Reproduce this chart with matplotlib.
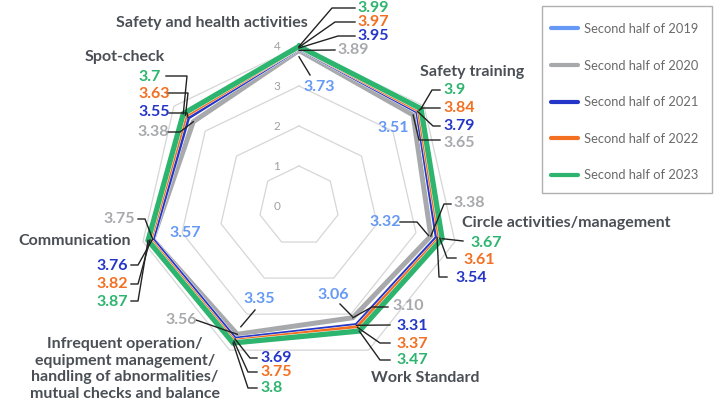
import numpy as np
import matplotlib.pyplot as plt
import matplotlib.patheffects as pe
from matplotlib.lines import Line2D
from matplotlib.patches import Rectangle

categories = ['Safety and health activities', 'Safety training',
              'Circle activities/management', 'Work Standard',
              'Infrequent operation/\nequipment management/\nhandling of abnormalities/\nmutual checks and balance',
              'Communication', 'Spot-check']
years = ['Second half of 2019', 'Second half of 2020', 'Second half of 2021',
         'Second half of 2022', 'Second half of 2023']
v2019 = [3.73, 3.51, 3.32, 3.06, 3.35, 3.57, 3.35]
v2020 = [3.89, 3.65, 3.38, 3.10, 3.56, 3.75, 3.38]
v2021 = [3.95, 3.79, 3.54, 3.31, 3.69, 3.76, 3.55]
v2022 = [3.97, 3.84, 3.61, 3.37, 3.75, 3.82, 3.63]
v2023 = [3.99, 3.90, 3.67, 3.47, 3.80, 3.87, 3.70]
ticks = [0, 1, 2, 3, 4]

series = [v2019, v2020, v2021, v2022, v2023]
colors = ['#6699f5', '#a7a9ac', '#2436c8', '#f36f21', '#2db46e']
widths = [3.0, 3.6, 3.2, 3.2, 3.8]
fmts = ['{:g}', '{:.2f}', '{:g}', '{:g}', '{:g}']
lblfont = ['Lato', 'DejaVu Sans']

W, H = 720, 408
CX, CY, S = 299, 206, 40.0   # centre in image px, px per unit


def px(x, y):
    # image pixel -> data coords
    return ((x - CX) / S, (CY - y) / S)


n = len(categories)
ang = 2 * np.pi * np.arange(n) / n

fig = plt.figure(figsize=(W / 100, H / 100), dpi=100)
ax = fig.add_axes([0, 0, 1, 1])
ax.set_xlim(-CX / S, (W - CX) / S)
ax.set_ylim(-(H - CY) / S, CY / S)
ax.axis('off')

# polygon grid
for k in ticks[1:]:
    a = np.append(ang, ang[0])
    ax.plot(k * np.sin(a), k * np.cos(a), color='#d6d6d6', lw=0.9, zorder=1)
for k in ticks:
    x, y = px(277, CY - k * S)
    ax.text(x, y - 0.02, str(k), color='#a0a0a0', fontsize=8.5, ha='center', va='center',
            family=lblfont)

# series (2019 line is not shown in the chart)
for i, vals in enumerate(series):
    v = np.array(vals + vals[:1])
    a = np.append(ang, ang[0])
    ln, = ax.plot(v * np.sin(a), v * np.cos(a), color=colors[i], lw=widths[i],
                  solid_joinstyle='miter', zorder=2 + i, alpha=0 if i == 0 else 1)
    if i > 1:
        ln.set_path_effects([pe.Stroke(linewidth=widths[i] + 0.6, foreground='white'),
                             pe.Normal()])

# value labels: (series, axis) -> text left x, y, leader points (image px)
lab = {
    (4, 0): (357, 8, [(355, 8), (332, 8)]),
    (3, 0): (357, 22, [(355, 22), (335, 22)]),
    (2, 0): (357, 36, [(355, 36), (338, 36)]),
    (1, 0): (337, 50, [(335, 50)]),
    (0, 0): (303, 87, [(310, 75)]),
    (4, 1): (443, 90, [(440, 90), (432, 90)]),
    (3, 1): (443, 108, [(440, 108), (422, 108)]),
    (2, 1): (443, 126, [(440, 126), (433, 126)]),
    (1, 1): (443, 143, [(440, 140), (419, 140)]),
    (0, 1): (377, 128, []),
    (1, 2): (453, 203, [(451, 204), (444, 204)]),
    (0, 2): (369, 222, [(400, 222), (417, 222)]),
    (4, 2): (470, 243, [(463, 241)]),
    (3, 2): (463, 260, [(456, 258), (447, 258)]),
    (2, 2): (455, 278, [(447, 277), (439, 277)]),
    (0, 3): (317, 295, [(340, 304)]),
    (1, 3): (392, 306, [(388, 307), (372, 307)]),
    (2, 3): (396, 326, [(390, 325)]),
    (3, 3): (396, 344, [(390, 343), (380, 343)]),
    (4, 3): (396, 360, [(390, 360), (380, 360)]),
    (0, 4): (243, 299, [(255, 310)]),
    (1, 4): (165, 320, [(196, 320)]),
    (2, 4): (260, 358, [(257, 358), (250, 358)]),
    (3, 4): (260, 372, [(257, 372), (248, 372)]),
    (4, 4): (260, 388, [(257, 388), (248, 388)]),
    (1, 5): (103, 219, [(138, 219), (145, 219)]),
    (0, 5): (169, 233, []),
    (2, 5): (96, 266, [(131, 265), (138, 265)]),
    (3, 5): (96, 284, [(131, 284), (138, 284)]),
    (4, 5): (96, 302, [(131, 301), (138, 301)]),
    (4, 6): (138, 77, [(166, 76), (187, 76)]),
    (3, 6): (138, 94, [(167, 93), (188, 93)]),
    (2, 6): (138, 112, [(169, 113), (187, 113)]),
    (1, 6): (137, 132, [(167, 132), (180, 132)]),
}
for (s, i), (tx, ty, lead) in lab.items():
    val = series[s][i]
    x, y = px(tx, ty)
    ax.text(x, y, fmts[s].format(val), color=colors[s], fontsize=11.5, fontweight='bold',
            ha='left', va='center', family=lblfont, zorder=10)
    if lead:
        pts = [px(*p) for p in lead] + [(val * np.sin(ang[i]), val * np.cos(ang[i]))]
        xs, ys = zip(*pts)
        ax.plot(xs, ys, color='#222222', lw=1.0, zorder=9)

# category labels
cat_pos = [(308, 23, 'right'), (420, 72, 'left'), (462, 223, 'left'), (371, 378, 'left'),
           (125, 369, 'center'), (18, 241, 'left'), (125, 57, 'center')]
for c, (tx, ty, ha) in zip(categories, cat_pos):
    x, y = px(tx, ty)
    ax.text(x, y, c, color='#4a4f55', fontsize=11.5, fontweight='bold', ha=ha, va='center',
            multialignment='center', linespacing=1.22, family=lblfont, zorder=10)

# legend
fig.patches.append(Rectangle((542, H - 193), 170, 187, transform=None, fill=False,
                             edgecolor='#b0b0b0', lw=1.0))
handles = [Line2D([], [], color=c, lw=3, solid_capstyle='round') for c in colors]
leg = fig.legend(handles, years, loc='upper left', bbox_to_anchor=(551 / W, 1 - 23 / H),
                 frameon=False, labelcolor='#6a6a6a', handlelength=2.1,
                 handletextpad=0.45, labelspacing=1.9, borderpad=0, borderaxespad=0,
                 prop={'family': lblfont, 'size': 9.3})

fig.savefig('out.png', dpi=100)
